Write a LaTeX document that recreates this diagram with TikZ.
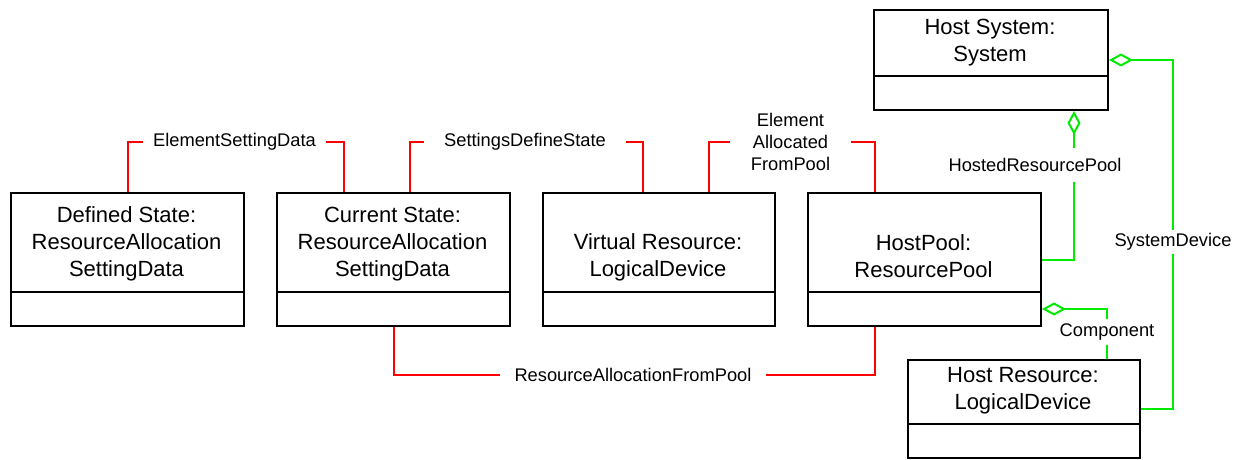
\documentclass[tikz,border=0pt]{standalone}
\usepackage{fontspec}
\setmainfont{Liberation Sans}
\usetikzlibrary{arrows.meta,calc}
\definecolor{umlred}{RGB}{255,0,0}
\definecolor{umlgreen}{RGB}{0,235,0}
\begin{document}
\begin{tikzpicture}[x=1pt,y=1pt,
  umlbox/.style={draw=black,line width=2pt,fill=white,inner sep=0pt,anchor=north west},
  divline/.style={draw=black,line width=2pt},
  boxtext/.style={align=center,font=\fontsize{22}{27}\selectfont,inner sep=0pt},
  lbl/.style={align=center,font=\fontsize{18.3}{22}\selectfont,inner ysep=3pt},
  redline/.style={draw=umlred,line width=2pt},
  greenline/.style={draw=umlgreen,line width=2pt},
  agg/.tip={Diamond[open,fill=white,length=24pt,width=13pt]}
]
\useasboundingbox (0,0) rectangle (1242,459);

% ---------- boxes ----------
\node[umlbox,minimum width=233pt,minimum height=133pt] (ds) at (10,267) {};
\draw[divline] ([yshift=-100pt]ds.north west) -- ([yshift=-100pt]ds.north east);
\node[boxtext] (dst) at (126.5,215) {Defined State:\\ResourceAllocation\\SettingData};

\node[umlbox,minimum width=233pt,minimum height=133pt] (cs) at (276,267) {};
\draw[divline] ([yshift=-100pt]cs.north west) -- ([yshift=-100pt]cs.north east);
\node[boxtext] (cst) at (392.5,215) {Current State:\\ResourceAllocation\\SettingData};

\node[umlbox,minimum width=232pt,minimum height=133pt] (vr) at (542,267) {};
\draw[divline] ([yshift=-100pt]vr.north west) -- ([yshift=-100pt]vr.north east);
\node[boxtext] (vrt) at (658,202) {Virtual Resource:\\LogicalDevice};

\node[umlbox,minimum width=233pt,minimum height=133pt] (hp) at (807,267) {};
\draw[divline] ([yshift=-100pt]hp.north west) -- ([yshift=-100pt]hp.north east);
\node[boxtext] (hpt) at (923.5,202.5) {HostPool:\\ResourcePool};

\node[umlbox,minimum width=234pt,minimum height=100pt] (hs) at (873,450) {};
\draw[divline] ([yshift=-67pt]hs.north west) -- ([yshift=-67pt]hs.north east);
\node[boxtext] (hst) at (990,416.5) {Host System:\\System};

\node[umlbox,minimum width=232pt,minimum height=98pt] (hr) at (907,100) {};
\draw[divline] ([yshift=-65pt]hr.north west) -- ([yshift=-65pt]hr.north east);
\node[boxtext] (hrt) at (1023,68) {Host Resource:\\LogicalDevice};

% ---------- labels ----------
\node[lbl,inner xsep=10pt] (esd) at (234.5,317) {ElementSettingData};
\node[lbl,inner xsep=19.5pt] (sds) at (525,317) {SettingsDefineState};
\node[lbl,inner xsep=21pt] (eafp) at (790.5,317) {Element\\Allocated\\FromPool};
\node[lbl,inner xsep=14.5pt] (rafp) at (633,84) {ResourceAllocationFromPool};
\node[lbl,inner ysep=10pt] (hrp) at (1035,294) {HostedResourcePool};
\node[lbl,inner ysep=3.5pt] (sd) at (1173,217) {SystemDevice};
\node[lbl,inner ysep=4.8pt] (comp) at (1107,127) {Component};

% ---------- red connectors ----------
\draw[redline] (ds.north) |- (esd.west);
\draw[redline] (esd.east) -| ([xshift=-49.5pt]cs.north);
\draw[redline] ([xshift=16.5pt]cs.north) |- (sds.west);
\draw[redline] (sds.east) -| ([xshift=-16pt]vr.north);
\draw[redline] ([xshift=50pt]vr.north) |- (eafp.west);
\draw[redline] (eafp.east) -| ([xshift=-49.5pt]hp.north);
\draw[redline] (cs.south) |- (rafp.west);
\draw[redline] (rafp.east) -| ([xshift=-49.5pt]hp.south);

% ---------- green connectors ----------
\coordinate (hrpTop) at ([xshift=83pt]hs.south);
\draw[greenline,agg-] (hrpTop) -- (hrpTop |- hrp.north);
\draw[greenline] (hrpTop |- hrp.south) |- (hp.east);

\draw[greenline,agg-] (hs.east) -| (sd.north);
\draw[greenline] (sd.south) |- (hr.east);

\coordinate (cpS) at ([yshift=-49.5pt]hp.east);
\draw[greenline,agg-] (cpS) -| (comp.north);
\draw[greenline] (comp.south) -- (comp.south |- hr.north);
\end{tikzpicture}
\end{document}
